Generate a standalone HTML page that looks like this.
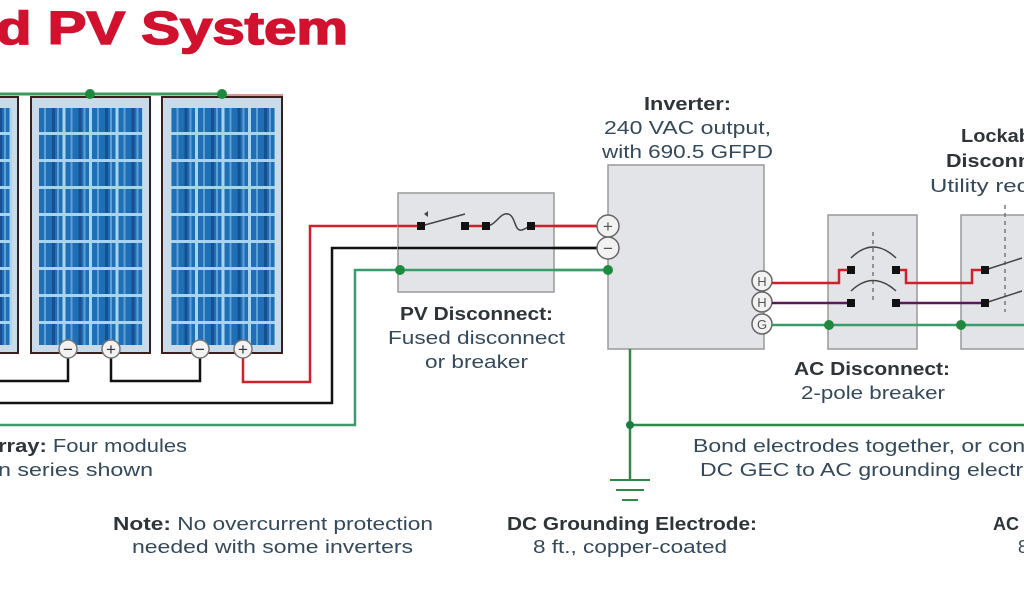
<!DOCTYPE html>
<html><head><meta charset="utf-8"><style>
html,body{margin:0;padding:0;background:#fff;width:1024px;height:600px;overflow:hidden}
svg{display:block}
.b{font-family:"Liberation Sans",sans-serif;font-weight:bold;fill:#2f3438;font-size:18px}
.n{font-family:"Liberation Sans",sans-serif;fill:#34495c;font-size:18px}
</style></head><body>
<svg width="1024" height="600" viewBox="0 0 1024 600" xmlns="http://www.w3.org/2000/svg">
<defs>
<pattern id="cells" x="39" y="108" width="26.5" height="27" patternUnits="userSpaceOnUse">
<rect width="26.5" height="27" fill="#a9d4f0"/>
<rect x="0" y="0" width="23.5" height="24" fill="#1f6fb6"/>
<rect x="5" y="0" width="2" height="24" fill="#5f9fd6"/>
<rect x="13" y="0" width="3" height="24" fill="#174f90"/>
<rect x="18" y="0" width="2" height="24" fill="#5f9fd6"/>
</pattern>
</defs>
<text x="-4" y="44" font-family="Liberation Sans,sans-serif" font-weight="bold" font-size="46" fill="#d2112f" stroke="#d2112f" stroke-width="1.5" textLength="352" lengthAdjust="spacingAndGlyphs">d PV System</text>

<g>
<rect x="-10" y="97" width="28" height="256" fill="#c9dbe8" stroke="#3b1e1e" stroke-width="2"/>
<rect x="-4" y="108" width="16" height="237" fill="url(#cells)"/>
<rect x="31" y="97" width="119" height="256" fill="#c9dbe8" stroke="#3b1e1e" stroke-width="2"/>
<rect x="39" y="108" width="104" height="237" fill="url(#cells)"/>
<rect x="162" y="97" width="120" height="256" fill="#c9dbe8" stroke="#3b1e1e" stroke-width="2"/>
<rect x="171" y="108" width="104" height="237" fill="url(#cells)"/>
</g>
<line x1="0" y1="94" x2="222" y2="94" stroke="#3a9c5a" stroke-width="3"/>
<line x1="222" y1="95" x2="283" y2="95" stroke="#c77" stroke-width="1.5"/>
<circle cx="90" cy="94" r="5" fill="#1f8a3f"/><circle cx="222" cy="94" r="5" fill="#1f8a3f"/>

<g fill="none" stroke-width="2.5">
<polyline points="68,355 68,381 0,381" stroke="#111"/>
<polyline points="111,355 111,381 200,381 200,355" stroke="#111"/>
<polyline points="243,355 243,382 310,382 310,226 600,226" stroke="#d0202a"/>
<polyline points="0,403 332,403 332,248 600,248" stroke="#111"/>
<polyline points="0,425 355,425 355,270 607,270" stroke="#3a9c6a"/>
</g>
<g font-family="Liberation Sans,sans-serif" font-size="17" text-anchor="middle" fill="#333">
<g stroke="#777" stroke-width="1.5" fill="#f2f2f2">
<circle cx="68" cy="349" r="9"/><circle cx="111" cy="349" r="9"/><circle cx="200" cy="349" r="9"/><circle cx="243" cy="349" r="9"/>
</g>
<text x="68" y="355">−</text><text x="111" y="355">+</text><text x="200" y="355">−</text><text x="243" y="355">+</text>
</g>

<rect x="398" y="193" width="156" height="99" fill="#e3e4e7" stroke="#999" stroke-width="1.5"/>
<line x1="398" y1="226" x2="421" y2="226" stroke="#d0202a" stroke-width="2.5"/>
<line x1="465" y1="226" x2="486" y2="226" stroke="#d0202a" stroke-width="2.5"/>
<line x1="531" y1="226" x2="600" y2="226" stroke="#d0202a" stroke-width="2.5"/>
<line x1="398" y1="248" x2="600" y2="248" stroke="#111" stroke-width="2.5"/>
<line x1="398" y1="270" x2="607" y2="270" stroke="#3a9c6a" stroke-width="2.5"/>
<line x1="421" y1="226" x2="465" y2="214" stroke="#444" stroke-width="1.5"/>
<path d="M424,214 l4,-3 l0,6z" fill="#444"/>
<path d="M486,226 C496,226 500,212 508,214 C516,216 514,232 522,230 C528,228 528,226 531,226" fill="none" stroke="#444" stroke-width="1.5"/>
<g fill="#111"><rect x="417" y="222" width="8" height="8"/><rect x="461" y="222" width="8" height="8"/><rect x="482" y="222" width="8" height="8"/><rect x="527" y="222" width="8" height="8"/></g>
<circle cx="400" cy="270" r="5" fill="#1f8a3f"/>

<rect x="608" y="165" width="156" height="184" fill="#e3e4e7" stroke="#999" stroke-width="1.5"/>
<circle cx="608" cy="270" r="5" fill="#1f8a3f"/>
<g stroke="#666" stroke-width="1.5" fill="#f2f2f2">
<circle cx="608" cy="226" r="11"/><circle cx="608" cy="248" r="11"/>
<circle cx="762" cy="281" r="10"/><circle cx="762" cy="302" r="10"/><circle cx="762" cy="324" r="10"/>
</g>
<g font-family="Liberation Sans,sans-serif" text-anchor="middle" fill="#555">
<text x="608" y="232" font-size="17">+</text><text x="608" y="254" font-size="17">−</text>
<text x="762" y="286" font-size="13">H</text><text x="762" y="307" font-size="13">H</text><text x="762" y="329" font-size="13">G</text>
</g>

<rect x="828" y="215" width="89" height="134" fill="#e3e4e7" stroke="#999" stroke-width="1.5"/>
<rect x="961" y="215" width="80" height="134" fill="#e3e4e7" stroke="#999" stroke-width="1.5"/>
<g fill="none" stroke-width="2.5">
<polyline points="772,283 839,283 839,270 851,270" stroke="#d0202a"/>
<polyline points="896,270 906,270 906,283 972,283 972,270 985,270" stroke="#d0202a"/>
<line x1="772" y1="303" x2="851" y2="303" stroke="#5a1a5a"/>
<line x1="896" y1="303" x2="985" y2="303" stroke="#5a1a5a"/>
<line x1="772" y1="325" x2="1024" y2="325" stroke="#3a9c6a"/>
</g>
<line x1="873" y1="232" x2="873" y2="300" stroke="#777" stroke-width="1.5" stroke-dasharray="4,4"/>
<path d="M851,258 Q873,236 896,258" fill="none" stroke="#444" stroke-width="1.5"/>
<path d="M851,291 Q873,270 896,291" fill="none" stroke="#444" stroke-width="1.5"/>
<g fill="#111"><rect x="847" y="266" width="8" height="8"/><rect x="892" y="266" width="8" height="8"/><rect x="847" y="299" width="8" height="8"/><rect x="892" y="299" width="8" height="8"/></g>
<circle cx="829" cy="325" r="5" fill="#1f8a3f"/>
<line x1="1005" y1="205" x2="1005" y2="312" stroke="#777" stroke-width="1.5" stroke-dasharray="4,4"/>
<line x1="985" y1="270" x2="1022" y2="258" stroke="#444" stroke-width="1.5"/>
<line x1="985" y1="303" x2="1022" y2="291" stroke="#444" stroke-width="1.5"/>
<g fill="#111"><rect x="981" y="266" width="8" height="8"/><rect x="981" y="299" width="8" height="8"/></g>
<circle cx="961" cy="325" r="5" fill="#1f8a3f"/>

<line x1="630" y1="349" x2="630" y2="480" stroke="#2f8a4a" stroke-width="2.5"/>
<line x1="630" y1="425" x2="1024" y2="425" stroke="#2f8a4a" stroke-width="2.5"/>
<circle cx="630" cy="425" r="4" fill="#1f7a3f"/>
<line x1="610" y1="480" x2="650" y2="480" stroke="#2f8a4a" stroke-width="2"/>
<line x1="616" y1="490" x2="644" y2="490" stroke="#2f8a4a" stroke-width="2"/>
<line x1="622" y1="500" x2="638" y2="500" stroke="#2f8a4a" stroke-width="2"/>

<g>
<text class="b" x="644" y="110" textLength="87" lengthAdjust="spacingAndGlyphs">Inverter:</text>
<text class="n" x="604" y="134" textLength="167" lengthAdjust="spacingAndGlyphs">240 VAC output,</text>
<text class="n" x="602" y="158" textLength="171" lengthAdjust="spacingAndGlyphs">with 690.5 GFPD</text>
<text class="b" x="400" y="320" textLength="153" lengthAdjust="spacingAndGlyphs">PV Disconnect:</text>
<text class="n" x="388" y="344" textLength="177" lengthAdjust="spacingAndGlyphs">Fused disconnect</text>
<text class="n" x="425" y="368" textLength="103" lengthAdjust="spacingAndGlyphs">or breaker</text>
<text class="b" x="794" y="375" textLength="156" lengthAdjust="spacingAndGlyphs">AC Disconnect:</text>
<text class="n" x="801" y="399" textLength="144" lengthAdjust="spacingAndGlyphs">2-pole breaker</text>
<text class="b" x="507" y="530" textLength="250" lengthAdjust="spacingAndGlyphs">DC Grounding Electrode:</text>
<text class="n" x="533" y="553" textLength="194" lengthAdjust="spacingAndGlyphs">8 ft., copper-coated</text>
<text class="n" x="113" y="530" textLength="320" lengthAdjust="spacingAndGlyphs"><tspan class="b">Note:</tspan> No overcurrent protection</text>
<text class="n" x="132" y="553" textLength="281" lengthAdjust="spacingAndGlyphs">needed with some inverters</text>
<text class="b" x="961" y="142" textLength="70" lengthAdjust="spacingAndGlyphs">Lockab</text>
<text class="b" x="946" y="167" textLength="85" lengthAdjust="spacingAndGlyphs">Disconn</text>
<text class="n" x="930" y="192" textLength="100" lengthAdjust="spacingAndGlyphs">Utility req</text>
<text class="n" x="-2" y="452" textLength="189" lengthAdjust="spacingAndGlyphs"><tspan class="b">rray:</tspan> Four modules</text>
<text class="n" x="-2" y="476" textLength="155" lengthAdjust="spacingAndGlyphs">n series shown</text>
<text class="n" x="693" y="452" textLength="345" lengthAdjust="spacingAndGlyphs">Bond electrodes together, or conn</text>
<text class="n" x="700" y="476" textLength="336" lengthAdjust="spacingAndGlyphs">DC GEC to AC grounding electro</text>
<text class="b" x="993" y="530">AC</text>
<text class="n" x="1018" y="553">8</text>
</g>
</svg>
</body></html>
